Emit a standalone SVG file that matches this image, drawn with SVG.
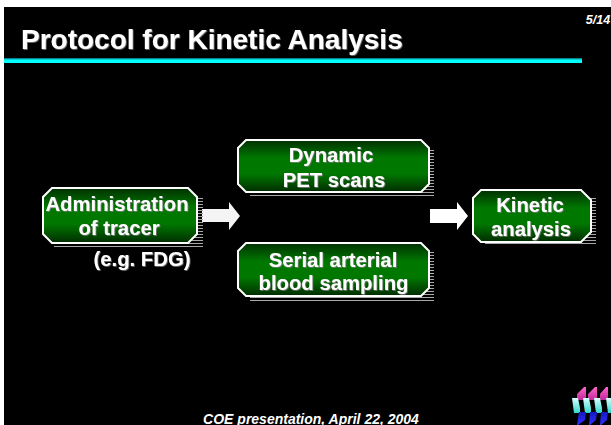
<svg xmlns="http://www.w3.org/2000/svg" width="611" height="425" viewBox="0 0 611 425">
<defs>
<linearGradient id="g" x1="0" y1="0" x2="0" y2="1"><stop offset="0" stop-color="#003000"/><stop offset="0.35" stop-color="#007800"/><stop offset="0.65" stop-color="#007800"/><stop offset="1" stop-color="#002c00"/></linearGradient>
<linearGradient id="bar" x1="0" y1="0" x2="0" y2="1"><stop offset="0" stop-color="#005f6a"/><stop offset="0.4" stop-color="#00ffff"/><stop offset="1" stop-color="#00ffff"/></linearGradient>
<pattern id="sh" width="4" height="3" patternUnits="userSpaceOnUse"><rect width="4" height="1" fill="#a8a8a8"/></pattern>
<linearGradient id="logoP" x1="0" y1="0" x2="0" y2="1"><stop offset="0" stop-color="#ff66cc"/><stop offset="1" stop-color="#c02898"/></linearGradient>
<linearGradient id="logoC" x1="0" y1="0" x2="0" y2="1"><stop offset="0" stop-color="#d8ffff"/><stop offset="1" stop-color="#30d8d0"/></linearGradient>
<linearGradient id="logoB" x1="0" y1="0" x2="0" y2="1"><stop offset="0" stop-color="#1818c0"/><stop offset="1" stop-color="#3030ff"/></linearGradient>
<filter id="glow" x="-5%" y="-20%" width="110%" height="140%"><feDropShadow dx="0.8" dy="0.8" stdDeviation="0.5" flood-color="#808080"/></filter>
<filter id="soft"><feGaussianBlur stdDeviation="0.7"/></filter>
</defs>
<style>
.t{font-family:"Liberation Sans",Arial,sans-serif;font-weight:bold;fill:#fff;text-anchor:middle}
.n{font-size:20.3px;filter:url(#glow)}
.b{fill:url(#g);stroke:#fff;stroke-width:2}
.s{fill:url(#sh)}
.i{font-style:italic}
</style>
<rect x="4" y="7" width="607" height="418" fill="#000"/>
<g id="header">
<text x="21" y="49" font-size="28" style="font-family:'Liberation Sans',Arial,sans-serif;font-weight:bold;fill:#fff;filter:url(#glow)">Protocol for Kinetic Analysis</text>
<rect x="4" y="58" width="578" height="5" fill="url(#bar)"/>
<text x="598" y="24" font-size="12.5" class="t i">5/14</text>
</g>
<g id="connectors">
<path d="M202 209H229V202L240 216L229 230V222H202Z" fill="#f4f4f4"/>
<path d="M430 209H457V202L468 216L457 230V223H430Z" fill="#fff"/>
</g>
<g id="node-admin">
<rect x="54" y="196" width="149" height="52" class="s"/>
<path d="M52 188H188L197 197V234L188 243H52L43 234V197Z" class="b"/>
<text x="117" y="211" class="t n">Administration</text>
<text x="119" y="235" class="t n">of tracer</text>
</g>
<text id="note" x="142" y="266" class="t n">(e.g. FDG)</text>
<g id="node-pet">
<rect x="250" y="148" width="184" height="49" class="s"/>
<path d="M246 140H421L429 148V184L421 192H246L238 184V148Z" class="b"/>
<text x="331" y="162" class="t n">Dynamic</text>
<text x="334" y="187" class="t n">PET scans</text>
</g>
<g id="node-blood">
<rect x="250" y="252" width="184" height="49" class="s"/>
<path d="M246 243H421L429 251V288L421 296H246L238 288V251Z" class="b"/>
<text x="333" y="267" class="t n">Serial arterial</text>
<text x="333.5" y="290" class="t n">blood sampling</text>
</g>
<g id="node-kinetic">
<rect x="485" y="198" width="111" height="48" class="s"/>
<path d="M481 190H581L591 200V232L581 242H481L473 234V198Z" class="b"/>
<text x="530" y="212" class="t n">Kinetic</text>
<text x="531" y="236" class="t n">analysis</text>
</g>
<g id="logo" filter="url(#soft)">
<path d="M577 394L584 387H586V400H577Z M588 394L595 387H597V400H588Z M600 394L606 387H608V400H600Z" fill="url(#logoP)"/>
<path d="M572 398H578L580 408V413H574Z M583 398H589L591 408V413H585Z M594 398H600L602 408V413H596Z M606 398H611V413H608Z" fill="url(#logoC)"/>
<path d="M579 412H586L585 420L578 425H577Z M590 412H597L596 420L590 425H589Z M601 412H608L607 420L601 425H600Z" fill="url(#logoB)"/>
</g>
<text id="footer" x="311" y="424" font-size="14" class="t i">COE presentation, April  22, 2004</text>
</svg>
